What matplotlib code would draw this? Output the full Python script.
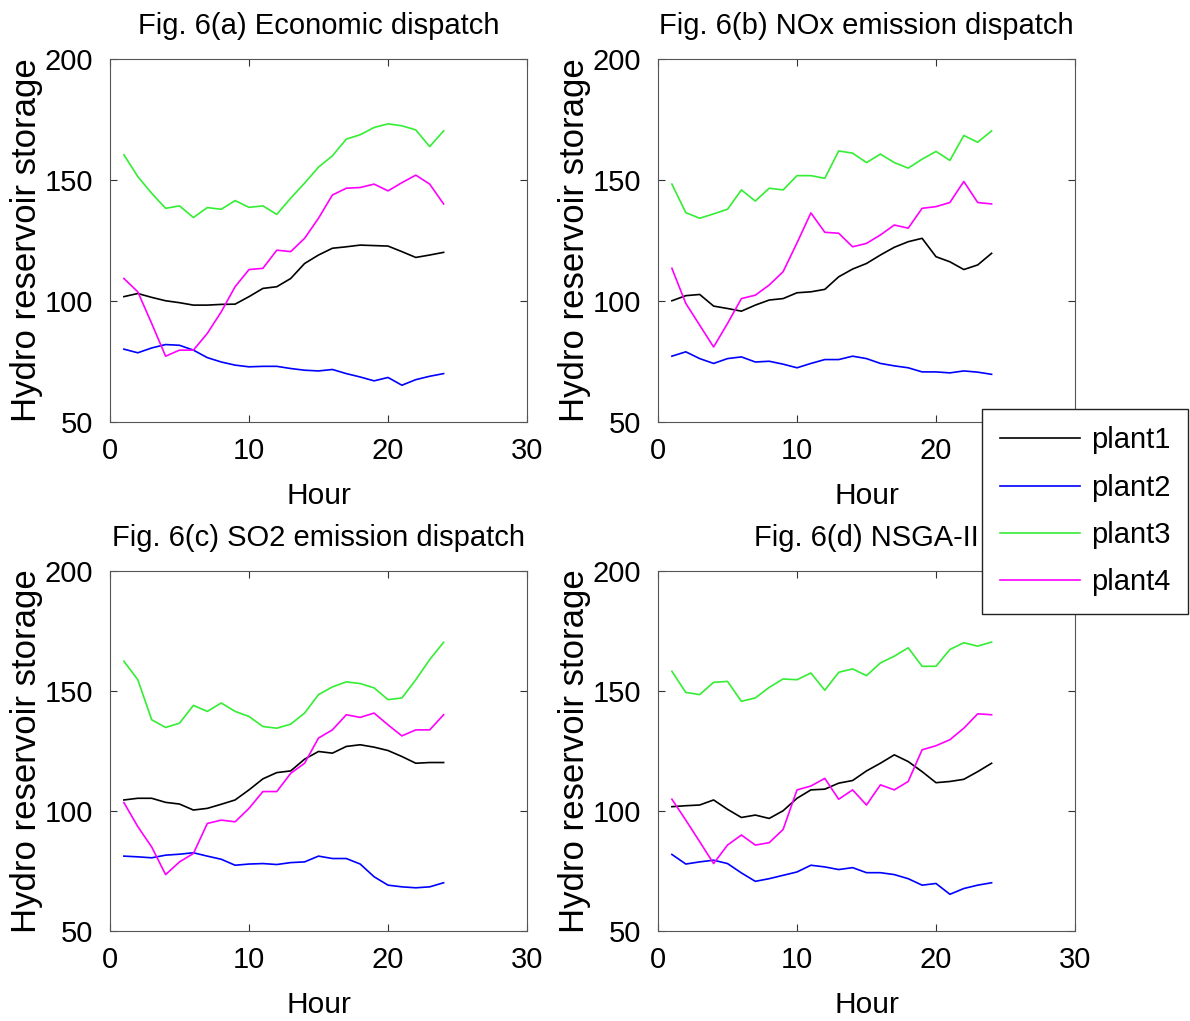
import numpy as np
import matplotlib
matplotlib.use('Agg')
import matplotlib.pyplot as plt

plt.rcParams['font.family'] = ['Liberation Sans', 'DejaVu Sans']

hours = list(range(1, 25))

# Fig. 6(a) Economic dispatch
a_plant1 = [101.8, 103.1, 101.5, 100.1, 99.3, 98.3, 98.3, 98.6, 98.7, 101.8, 105.2, 105.9,
            109.3, 115.5, 119.0, 121.8, 122.4, 123.1, 122.9, 122.7, 120.4, 118.0, 119.0, 120.1]
a_plant2 = [80.1, 78.6, 80.6, 82.0, 81.7, 79.7, 76.6, 74.8, 73.5, 72.8, 73.0, 73.0,
            72.1, 71.4, 71.1, 71.7, 70.0, 68.6, 67.0, 68.4, 65.2, 67.5, 68.9, 70.0]
a_plant3 = [160.4, 151.4, 144.5, 138.3, 139.3, 134.5, 138.6, 137.9, 141.5, 138.7, 139.3, 135.8,
            142.5, 148.7, 155.3, 160.0, 166.9, 168.7, 171.7, 173.2, 172.4, 170.7, 163.8, 170.3]
a_plant4 = [109.3, 103.8, 90.7, 77.2, 79.7, 79.7, 86.6, 95.5, 105.9, 113.0, 113.5, 121.0,
            120.4, 125.9, 134.2, 143.8, 146.6, 146.9, 148.3, 145.5, 148.9, 152.0, 148.3, 140.1]

# Fig. 6(b) NOx emission dispatch
b_plant1 = [100.1, 102.2, 102.7, 97.9, 96.9, 95.8, 98.3, 100.4, 101.0, 103.4, 103.8, 104.8,
            110.0, 113.2, 115.5, 119.0, 122.2, 124.5, 125.9, 118.3, 116.2, 113.0, 114.9, 119.7]
b_plant2 = [77.2, 79.0, 76.2, 74.2, 76.2, 76.9, 74.8, 75.1, 73.9, 72.4, 74.2, 75.8,
            75.8, 77.2, 76.2, 74.2, 73.2, 72.4, 70.7, 70.7, 70.3, 71.1, 70.6, 69.7]
b_plant3 = [148.3, 136.5, 134.2, 136.0, 137.9, 145.9, 141.3, 146.6, 145.9, 151.8, 151.8, 150.7,
            162.0, 161.1, 157.2, 160.7, 157.2, 154.9, 158.6, 161.8, 158.1, 168.4, 165.6, 170.3]
b_plant4 = [113.5, 99.0, 90.0, 81.0, 90.7, 101.0, 102.4, 106.6, 112.1, 124.0, 136.4, 128.4,
            128.0, 122.4, 123.8, 127.3, 131.4, 130.1, 138.3, 139.0, 140.7, 149.4, 140.7, 140.1]

# Fig. 6(c) SO2 emission dispatch
c_plant1 = [104.6, 105.3, 105.3, 103.6, 102.9, 100.4, 101.1, 102.8, 104.6, 108.8, 113.4, 116.0,
            116.7, 121.6, 124.8, 124.1, 126.9, 127.6, 126.6, 125.2, 122.7, 119.9, 120.2, 120.2]
c_plant2 = [81.2, 80.9, 80.5, 81.6, 82.0, 82.6, 81.2, 79.9, 77.4, 77.9, 78.1, 77.7,
            78.5, 78.8, 81.2, 80.2, 80.2, 77.9, 72.6, 69.1, 68.4, 68.0, 68.4, 70.1]
c_plant3 = [162.4, 154.7, 138.0, 134.8, 136.6, 144.0, 141.5, 145.0, 141.5, 139.4, 135.2, 134.5,
            136.2, 140.8, 148.5, 151.7, 153.8, 153.1, 151.3, 146.4, 147.1, 154.7, 163.1, 170.3]
c_plant4 = [103.5, 93.5, 85.0, 73.5, 78.8, 82.3, 94.8, 96.2, 95.5, 101.1, 108.1, 108.1,
            115.7, 119.9, 130.4, 133.8, 140.1, 139.0, 140.8, 135.9, 131.3, 133.8, 133.8, 140.1]

# Fig. 6(d) NSGA-II
d_plant1 = [101.8, 102.2, 102.5, 104.6, 100.7, 97.3, 98.3, 96.9, 100.1, 105.3, 108.8, 109.1,
            111.6, 112.7, 116.7, 119.9, 123.4, 120.6, 116.4, 111.8, 112.3, 113.2, 116.4, 119.9]
d_plant2 = [81.9, 77.9, 78.8, 79.5, 78.1, 74.2, 70.7, 71.8, 73.2, 74.6, 77.4, 76.7,
            75.6, 76.4, 74.3, 74.3, 73.5, 71.8, 69.1, 69.8, 65.3, 67.7, 69.1, 70.1]
d_plant3 = [158.2, 149.4, 148.5, 153.6, 154.0, 145.7, 147.1, 151.5, 155.0, 154.7, 157.5, 150.3,
            157.8, 159.2, 156.4, 161.7, 164.5, 168.0, 160.3, 160.3, 167.3, 170.1, 168.7, 170.4]
d_plant4 = [104.9, 96.2, 87.2, 78.1, 85.8, 90.0, 85.8, 86.8, 92.3, 108.8, 110.4, 113.6,
            104.9, 108.8, 102.5, 110.9, 108.8, 112.3, 125.5, 127.2, 129.7, 134.5, 140.5, 140.1]

titles = ['Fig. 6(a) Economic dispatch', 'Fig. 6(b) NOx emission dispatch',
          'Fig. 6(c) SO2 emission dispatch', 'Fig. 6(d) NSGA-II']
panels = [
    [a_plant1, a_plant2, a_plant3, a_plant4],
    [b_plant1, b_plant2, b_plant3, b_plant4],
    [c_plant1, c_plant2, c_plant3, c_plant4],
    [d_plant1, d_plant2, d_plant3, d_plant4],
]
names = ['plant1', 'plant2', 'plant3', 'plant4']
colors = ['#000000', '#0000ff', '#33ee33', '#ff00ff']

W, H = 1190, 1021
fig = plt.figure(figsize=(W / 100, H / 100), dpi=100)

# axes boxes in pixels: left, top, right, bottom
boxes = [(110, 59, 527, 422), (658, 59, 1075, 422),
         (110, 571, 527, 931), (658, 571, 1075, 931)]

handles = []
for k in range(4):
    l, t, r, b = boxes[k]
    ax = fig.add_axes([l / W, 1 - b / H, (r - l) / W, (b - t) / H])
    for s, c in zip(panels[k], colors):
        h, = ax.plot(hours, s, color=c, lw=1.2)
        if k == 0:
            handles.append(h)
    ax.set_xlim(0, 30)
    ax.set_ylim(50, 200)
    ax.set_xticks([0, 10, 20, 30])
    ax.set_yticks([50, 100, 150, 200])
    ax.tick_params(direction='in', top=True, right=True, labelsize=21,
                   length=5, width=0.8, color='#333333')
    ax.tick_params(axis='x', pad=11)
    ax.tick_params(axis='y', pad=12)
    for sp in ax.spines.values():
        sp.set_color('#555555')
        sp.set_linewidth(0.8)
    ax.set_title(titles[k], fontsize=21, pad=18)
    ax.set_xlabel('Hour', fontsize=21.5, labelpad=12)
    ax.set_ylabel('Hydro reservoir storage', fontsize=25, labelpad=1)

leg = fig.legend(handles, names, loc='upper left',
                 bbox_to_anchor=(982 / W, 1 - 409 / H), borderaxespad=0,
                 fontsize=21, handlelength=2.75, labelspacing=0.66,
                 handletextpad=0.4, borderpad=0.6, fancybox=False,
                 framealpha=1, edgecolor='#222222')
leg.get_frame().set_linewidth(1.0)

fig.savefig('out.png', dpi=100)
